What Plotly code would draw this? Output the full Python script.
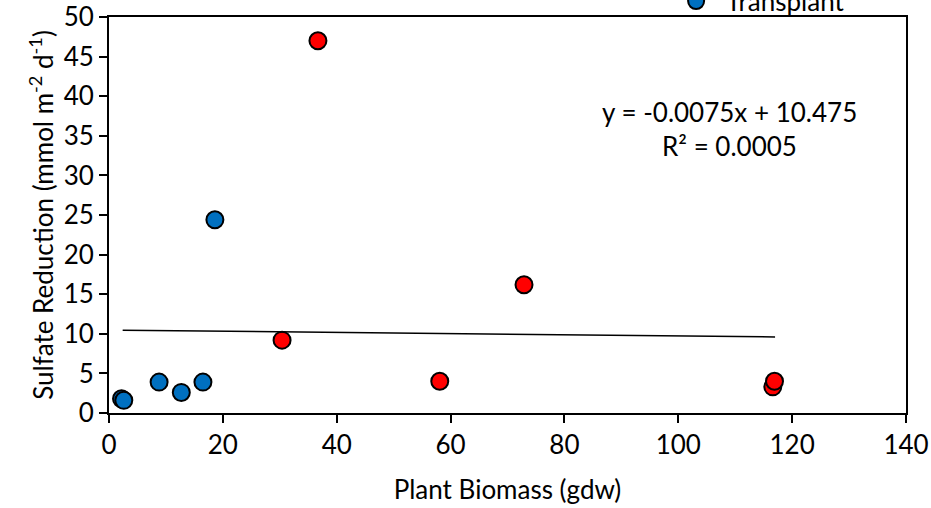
import plotly.graph_objects as go

# Data
transplant_x = [2.2, 2.6, 8.8, 12.7, 16.5, 18.6]
transplant_y = [1.8, 1.6, 3.9, 2.6, 3.9, 24.4]

natural_x = [30.4, 36.7, 58.1, 72.9, 116.6, 116.9]
natural_y = [9.2, 47.0, 4.0, 16.2, 3.3, 4.0]

# Linear trendline as printed on the chart
trend_slope = -0.0075
trend_intercept = 10.475
trend_x = [2.4, 117.0]
trend_y = [trend_slope * v + trend_intercept for v in trend_x]

eq_text = "y = -0.0075x + 10.475"
r2_text = "R² = 0.0005"

FONT = "Lato, Carlito, 'Open Sans', sans-serif"
FS = 26

fig = go.Figure()
fig.add_trace(go.Scatter(
    x=natural_x, y=natural_y, mode="markers", name="Natural",
    marker=dict(size=17, color="#FF0000", line=dict(color="black", width=2)),
))
fig.add_trace(go.Scatter(
    x=transplant_x, y=transplant_y, mode="markers", name="Transplant",
    marker=dict(size=17, color="#0070C0", line=dict(color="black", width=2)),
))
fig.add_trace(go.Scatter(
    x=trend_x, y=trend_y, mode="lines", showlegend=False,
    line=dict(color="black", width=1.5), hoverinfo="skip",
))

fig.add_annotation(x=109, y=38.0, xref="x", yref="y", text=eq_text,
                   showarrow=False, font=dict(size=FS, color="black", family=FONT))
fig.add_annotation(x=109, y=33.7, xref="x", yref="y", text=r2_text,
                   showarrow=False, font=dict(size=FS, color="black", family=FONT))

fig.update_layout(
    width=931, height=508,
    margin=dict(l=109, r=25, t=17, b=95, autoexpand=False),
    paper_bgcolor="white", plot_bgcolor="white",
    font=dict(family=FONT, size=FS, color="black"),
    showlegend=True,
    legend=dict(x=0.699, y=0.98, xanchor="left", yanchor="bottom",
                bgcolor="rgba(0,0,0,0)", font=dict(size=FS, family=FONT),
                traceorder="normal", itemwidth=50),
    xaxis=dict(
        range=[0, 140], dtick=20, tick0=0,
        showline=True, linecolor="black", linewidth=2, mirror=True,
        ticks="outside", ticklen=8, tickwidth=2, tickcolor="black",
        showgrid=False, zeroline=False,
        tickfont=dict(size=FS, family=FONT),
        title=dict(text="Plant Biomass (gdw)", font=dict(size=FS, family=FONT), standoff=22),
    ),
    yaxis=dict(
        range=[0, 50], dtick=5, tick0=0,
        showline=True, linecolor="black", linewidth=2, mirror=True,
        ticks="outside", ticklen=8, tickwidth=2, tickcolor="black",
        showgrid=False, zeroline=False,
        tickfont=dict(size=FS, family=FONT),
        title=dict(text="Sulfate Reduction (mmol m<sup>-2</sup> d<sup>-1</sup>)",
                   font=dict(size=FS, family=FONT), standoff=3),
    ),
)

fig.write_html("out.html")
